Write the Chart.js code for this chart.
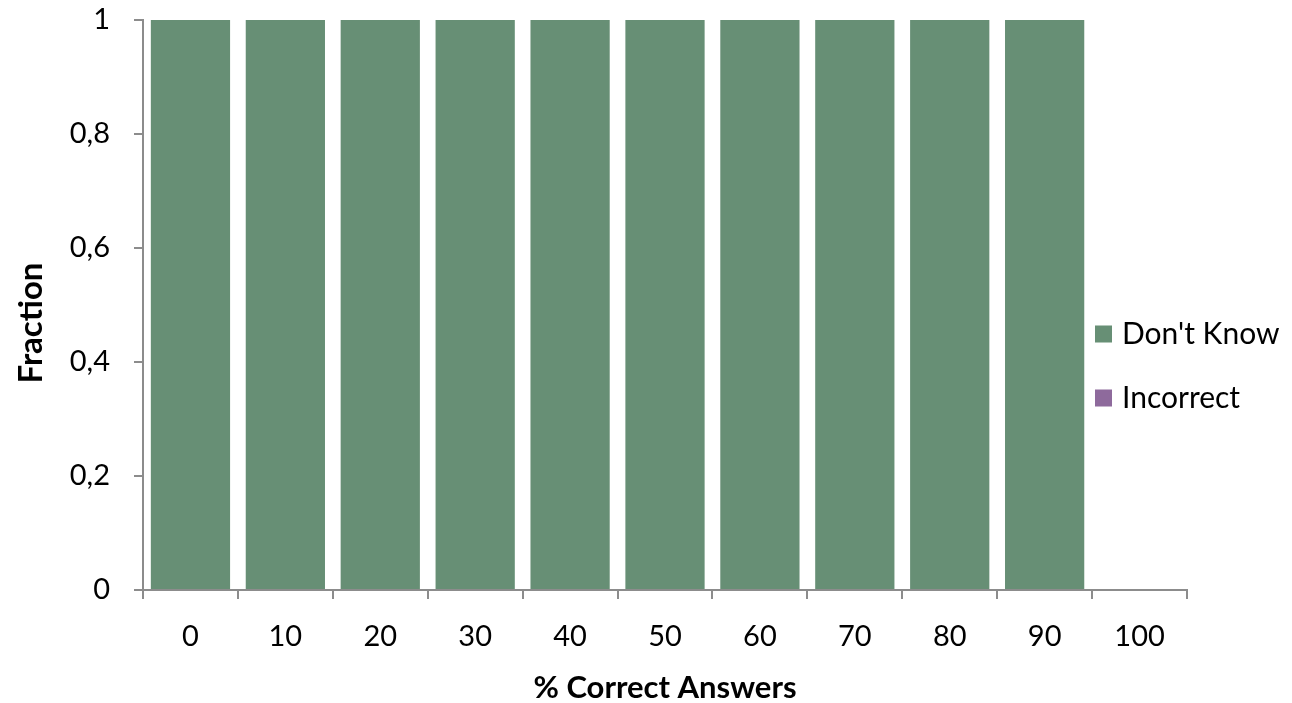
<!DOCTYPE html>
<html>
<head>
<meta charset="utf-8">
<script src="https://cdn.jsdelivr.net/npm/chart.js@4"></script>
<style>
  html, body { margin: 0; padding: 0; background: #ffffff; }
  #wrap { width: 1292px; height: 703px; position: relative; }
</style>
</head>
<body>
<div id="wrap"><canvas id="c"></canvas></div>
<script>
// Share of answers per "% correct" bucket
const categories = ['0', '10', '20', '30', '40', '50', '60', '70', '80', '90', '100'];
const dontKnow = [1, 1, 1, 1, 1, 1, 1, 1, 1, 1, 0];
const incorrect = [0, 0, 0, 0, 0, 0, 0, 0, 0, 0, 0];
const seriesNames = ["Don't Know", 'Incorrect'];
const yTickValues = [0, 0.2, 0.4, 0.6, 0.8, 1];
const yTitle = 'Fraction';

const GREEN = '#678f75';
const PURPLE = '#8e6a9c';
const AXIS = '#8c8c8c';
const FONT = 'Lato, "Open Sans", sans-serif';

// Decimal comma formatting for the value axis
function commaLabel(v) {
  const r = Math.round(v * 10) / 10;
  if (r === 0 || r === 1) return String(r);
  return r.toFixed(1).replace('.', ',');
}

// Legend drawn beside the plot, stacked vertically, plus the rotated value-axis title
const sideDecor = {
  id: 'sideDecor',
  afterDraw(chart) {
    const ctx = chart.ctx;
    const x = 1095, y0 = 334, step = 64, box = 17;
    ctx.save();
    ctx.font = '30px ' + FONT;
    ctx.textBaseline = 'middle';
    ctx.textAlign = 'left';
    chart.data.datasets.forEach((ds, i) => {
      const y = y0 + i * step;
      ctx.fillStyle = ds.backgroundColor;
      ctx.fillRect(x, y - box / 2, box, box);
      ctx.fillStyle = '#000000';
      ctx.fillText(ds.label, x + 27, y);
    });
    ctx.restore();

    ctx.save();
    ctx.translate(31, 323);
    ctx.rotate(-Math.PI / 2);
    ctx.font = 'bold 33px ' + FONT;
    ctx.textAlign = 'center';
    ctx.textBaseline = 'middle';
    ctx.fillStyle = '#000000';
    ctx.fillText(yTitle, 0, 0);
    ctx.restore();
  }
};

new Chart(document.getElementById('c'), {
  type: 'bar',
  data: {
    labels: categories,
    datasets: [
      { label: seriesNames[0], data: dontKnow, backgroundColor: GREEN, borderWidth: 0 },
      { label: seriesNames[1], data: incorrect, backgroundColor: PURPLE, borderWidth: 0 }
    ]
  },
  options: {
    responsive: true,
    maintainAspectRatio: false,
    animation: false,
    devicePixelRatio: 1,
    datasets: { bar: { barPercentage: 0.835, categoryPercentage: 1 } },
    layout: { padding: { top: 20, right: 105, bottom: 0, left: 0 } },
    plugins: {
      legend: { display: false },
      tooltip: { enabled: false }
    },
    scales: {
      x: {
        stacked: true,
        offset: true,
        afterFit(scale) {
          scale.height = 113;
          scale.paddingLeft = 0;
          scale.paddingRight = 0;
        },
        border: { display: true, color: AXIS, width: 2 },
        grid: {
          offset: true,
          display: true,
          drawOnChartArea: false,
          drawTicks: true,
          tickLength: 9,
          color: AXIS,
          lineWidth: 2
        },
        ticks: {
          color: '#000000',
          font: { family: FONT, size: 29 },
          padding: 20,
          maxRotation: 0
        },
        title: {
          display: true,
          text: '% Correct Answers',
          color: '#000000',
          font: { family: FONT, size: 31, weight: 'bold', lineHeight: 1 },
          padding: { top: 0, bottom: 0 }
        }
      },
      y: {
        stacked: true,
        min: 0,
        max: 1,
        afterBuildTicks(scale) {
          scale.ticks = yTickValues.map(v => ({ value: v }));
        },
        afterFit(scale) {
          scale.width = 143;
          scale.paddingTop = 0;
          scale.paddingBottom = 0;
        },
        border: { display: true, color: AXIS, width: 2 },
        grid: {
          display: true,
          drawOnChartArea: false,
          drawTicks: true,
          tickLength: 9,
          color: AXIS,
          lineWidth: 2
        },
        ticks: {
          color: '#000000',
          font: { family: FONT, size: 29 },
          padding: 24,
          callback: v => commaLabel(v)
        },
        title: { display: false }
      }
    }
  },
  plugins: [sideDecor]
});
</script>
</body>
</html>
